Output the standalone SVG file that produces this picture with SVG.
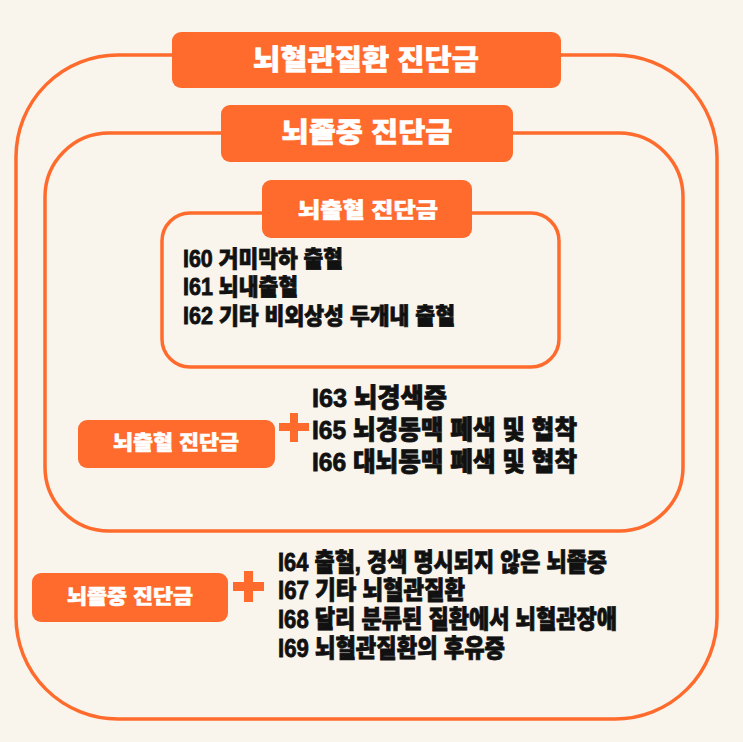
<svg xmlns="http://www.w3.org/2000/svg" width="743" height="742" viewBox="0 0 743 742">
<style>
.frame{fill:none;stroke:#FF6B2C;stroke-width:3.5}
.tag{fill:#FF6B2C}
.tagtxt{fill:#FFFFFF;stroke:#FFFFFF;stroke-width:0.6;font-family:"Liberation Sans","Noto Sans CJK KR",sans-serif;font-weight:900;text-anchor:middle;dominant-baseline:central}
.item{fill:#111111;stroke:#111111;stroke-width:0.8;font-family:"Liberation Sans","Noto Sans CJK KR",sans-serif;font-weight:900;dominant-baseline:central}
.plus{fill:#FF6B2C}
</style>
<rect width="743" height="742" fill="#F9F4EC"/>
<g id="outer">
<rect class="frame" x="16" y="55" width="701" height="664" rx="102"/>
<rect class="tag" x="172" y="32" width="389" height="56" rx="9"/>
<text class="tagtxt" x="366" y="60" font-size="28" textLength="226" lengthAdjust="spacingAndGlyphs">뇌혈관질환 진단금</text>
</g>
<g id="middle">
<rect class="frame" x="45" y="133" width="638" height="398" rx="64"/>
<rect class="tag" x="221" y="105" width="292" height="57" rx="9"/>
<text class="tagtxt" x="367" y="133" font-size="27" textLength="171" lengthAdjust="spacingAndGlyphs">뇌졸중 진단금</text>
</g>
<g id="inner">
<rect class="frame" x="162" y="213" width="397" height="154" rx="28"/>
<rect class="tag" x="262" y="180" width="210" height="58" rx="9"/>
<text class="tagtxt" x="368" y="209" font-size="21" textLength="140" lengthAdjust="spacingAndGlyphs">뇌출혈 진단금</text>
<text class="item" x="183" y="259" font-size="23" textLength="160" lengthAdjust="spacingAndGlyphs">I60 거미막하 출혈</text>
<text class="item" x="183" y="287" font-size="23" textLength="115" lengthAdjust="spacingAndGlyphs">I61 뇌내출혈</text>
<text class="item" x="183" y="316" font-size="23" textLength="272" lengthAdjust="spacingAndGlyphs">I62 기타 비외상성 두개내 출혈</text>
</g>
<g id="group-hemorrhage-plus">
<rect class="tag" x="78" y="420" width="197" height="48" rx="9"/>
<text class="tagtxt" x="176" y="443" font-size="20" textLength="126" lengthAdjust="spacingAndGlyphs">뇌출혈 진단금</text>
<path class="plus" d="M290 413h8v10h11v8h-11v11h-8v-11h-11v-8h11z"/>
<text class="item" x="312" y="398" font-size="26" textLength="135" lengthAdjust="spacingAndGlyphs">I63 뇌경색증</text>
<text class="item" x="312" y="430" font-size="26" textLength="265" lengthAdjust="spacingAndGlyphs">I65 뇌경동맥 폐색 및 협착</text>
<text class="item" x="312" y="462" font-size="26" textLength="265" lengthAdjust="spacingAndGlyphs">I66 대뇌동맥 폐색 및 협착</text>
</g>
<g id="group-stroke-plus">
<rect class="tag" x="32" y="573" width="196" height="49" rx="9"/>
<text class="tagtxt" x="130" y="597" font-size="20" textLength="126" lengthAdjust="spacingAndGlyphs">뇌졸중 진단금</text>
<path class="plus" d="M244 571h9v11h11v9h-11v11h-9v-11h-11v-9h11z"/>
<text class="item" x="278" y="562" font-size="25" textLength="329" lengthAdjust="spacingAndGlyphs">I64 출혈, 경색 명시되지 않은 뇌졸중</text>
<text class="item" x="278" y="590" font-size="25" textLength="187" lengthAdjust="spacingAndGlyphs">I67 기타 뇌혈관질환</text>
<text class="item" x="278" y="619" font-size="25" textLength="339" lengthAdjust="spacingAndGlyphs">I68 달리 분류된 질환에서 뇌혈관장애</text>
<text class="item" x="278" y="648" font-size="25" textLength="227" lengthAdjust="spacingAndGlyphs">I69 뇌혈관질환의 후유증</text>
</g>
</svg>
